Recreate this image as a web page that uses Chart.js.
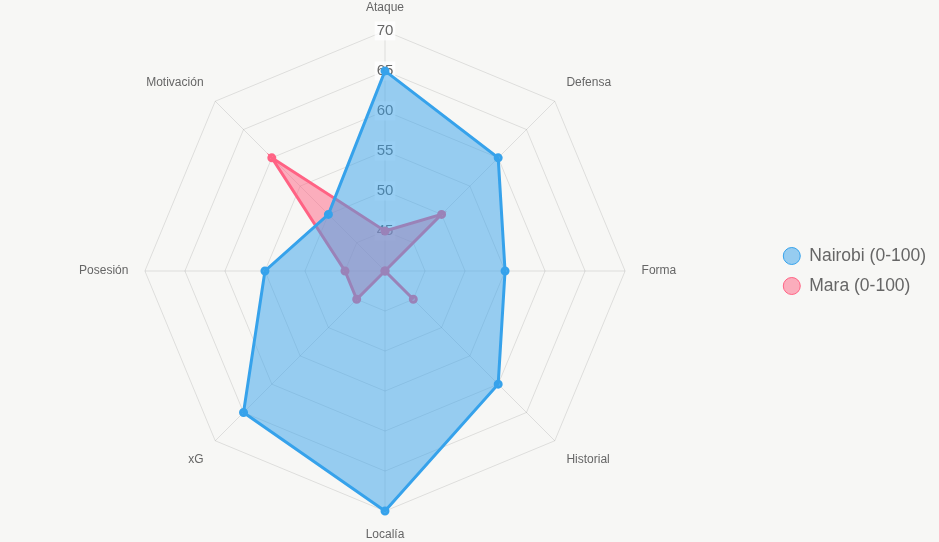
<!DOCTYPE html>
<html>
<head>
<meta charset="utf-8">
<script src="https://cdn.jsdelivr.net/npm/chart.js@4"></script>
<style>
  html, body { margin: 0; padding: 0; background: #f7f7f5; }
  #wrap { width: 939px; height: 542px; }
</style>
</head>
<body>
<div id="wrap"><canvas id="c"></canvas></div>
<script>
const labels = ['Ataque', 'Defensa', 'Forma', 'Historial', 'Localía', 'xG', 'Posesión', 'Motivación'];
const nairobi = [65, 60, 55, 60, 70, 65, 55, 50];
const mara = [45, 50, 40, 45, 40, 45, 45, 60];

Chart.defaults.font.family = '"Liberation Sans", Arial, sans-serif';

new Chart(document.getElementById('c'), {
    type: 'radar',
    data: {
        labels: labels,
        datasets: [{
            label: 'Nairobi (0-100)',
            data: nairobi,
            borderColor: 'rgb(54, 162, 235)',
            backgroundColor: 'rgba(54, 162, 235, 0.5)',
            pointBackgroundColor: 'rgba(54, 162, 235, 0.5)',
            borderWidth: 3,
            pointRadius: 3
        }, {
            label: 'Mara (0-100)',
            data: mara,
            borderColor: 'rgb(255, 99, 132)',
            backgroundColor: 'rgba(255, 99, 132, 0.5)',
            pointBackgroundColor: 'rgba(255, 99, 132, 0.5)',
            borderWidth: 3,
            pointRadius: 3
        }]
    },
    options: {
        responsive: true,
        maintainAspectRatio: false,
        animation: false,
        layout: { padding: { right: 3 } },
        scales: {
            r: {
                min: 40,
                max: 70,
                ticks: { stepSize: 5, font: { size: 15 }, color: '#666' },
                pointLabels: { font: { size: 12 }, color: '#666', padding: 7 },
                grid: { color: 'rgba(0,0,0,0.1)' },
                angleLines: { color: 'rgba(0,0,0,0.1)' }
            }
        },
        plugins: {
            legend: {
                position: 'right',
                labels: {
                    usePointStyle: true,
                    boxHeight: 12,
                    padding: 12.5,
                    font: { size: 17.5 },
                    color: '#666',
                    generateLabels(chart) {
                        return Chart.defaults.plugins.legend.labels.generateLabels(chart)
                            .map(i => ({ ...i, lineWidth: 1 }));
                    }
                }
            }
        }
    }
});
</script>
</body>
</html>
